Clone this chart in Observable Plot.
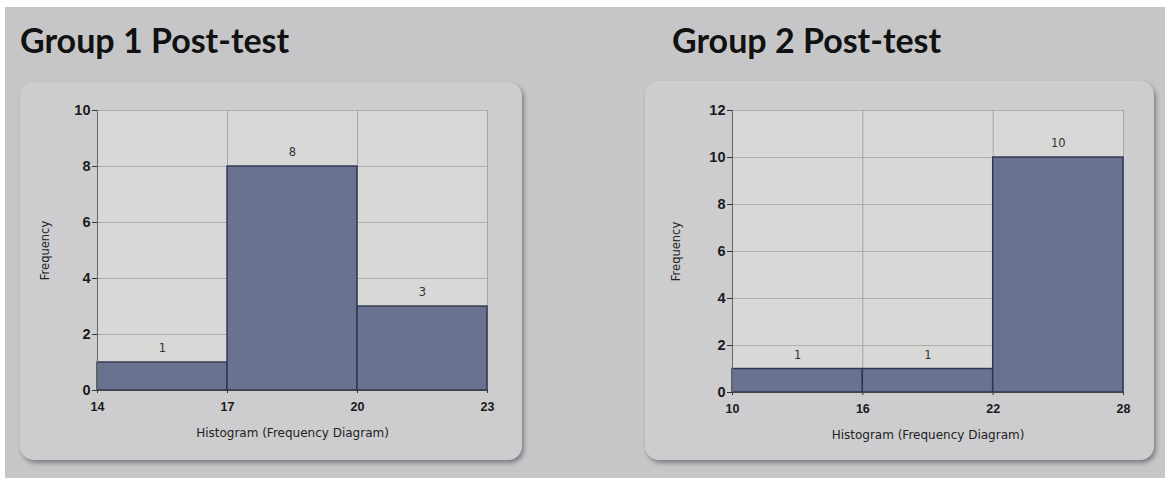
<!DOCTYPE html>
<html>
<head>
<meta charset="utf-8">
<script src="https://cdn.jsdelivr.net/npm/d3@7"></script>
<script src="https://cdn.jsdelivr.net/npm/@observablehq/plot@0.6"></script>
<style>
  html, body { margin: 0; padding: 0; width: 1165px; height: 478px; background: #ffffff; overflow: hidden; }
  #bg { position: absolute; left: 5px; top: 7px; right: 0; bottom: 0; background: #c6c6c8; }
  .title { position: absolute; font-family: Lato, "Open Sans", sans-serif; font-weight: 700; font-size: 34px; line-height: 1.2; color: #111; white-space: nowrap; }
  .box { position: absolute; border-radius: 14px; background: #cdcdd0; box-shadow: 2px 3px 4px rgba(40,40,50,0.45); }
  .chart { position: absolute; }
  .chart svg { background: transparent !important; overflow: visible; }
</style>
</head>
<body>
<div id="bg"></div>
<div class="title" style="left:20px; top:20px;">Group 1 Post-test</div>
<div class="title" style="left:672px; top:20px;">Group 2 Post-test</div>
<div class="box" style="left:20px; top:82px; width:502px; height:378px;"></div>
<div class="box" style="left:645px; top:81px; width:509px; height:379px;"></div>
<div class="chart" id="c1" style="left:20px; top:82px;"></div>
<div class="chart" id="c2" style="left:645px; top:81px;"></div>
<script>
// ---- data ----
const g1Edges = [14, 17, 20, 23];
const g1Counts = [1, 8, 3];
const g1YTicks = [0, 2, 4, 6, 8, 10];

const g2Edges = [10, 16, 22, 28];
const g2Counts = [1, 1, 10];
const g2YTicks = [0, 2, 4, 6, 8, 10, 12];

const xLabel = "Histogram (Frequency Diagram)";
const yLabel = "Frequency";

function histo({edges, counts, yTicks, width, height, mL, mR, mT, mB, yLabDx}) {
  const bins = counts.map((c, i) => ({x1: edges[i], x2: edges[i + 1], xm: (edges[i] + edges[i + 1]) / 2, count: c}));
  const yMax = yTicks[yTicks.length - 1];
  return Plot.plot({
    width, height,
    marginLeft: mL, marginRight: mR, marginTop: mT, marginBottom: mB,
    style: {background: "transparent", fontFamily: "'Liberation Sans', Arial, sans-serif", color: "#222"},
    x: {domain: [edges[0], edges[edges.length - 1]]},
    y: {domain: [0, yMax]},
    marks: [
      Plot.frame({fill: "#d8d8d6", stroke: null}),
      Plot.gridX(edges, {stroke: "#9a9a9e", strokeOpacity: 1, strokeWidth: 0.8}),
      Plot.gridY(yTicks, {stroke: "#a4a4a8", strokeOpacity: 1, strokeWidth: 0.8}),
      Plot.rectY(bins, {x1: "x1", x2: "x2", y: "count", fill: "#69728e", stroke: "#2c3550", strokeWidth: 1.4}),
      Plot.text(bins, {x: "xm", y: "count", text: d => String(d.count), dy: -14, fontSize: 11.5,
        fontFamily: "'DejaVu Sans', sans-serif", fill: "#333"}),
      Plot.ruleX([edges[0]], {stroke: "#666", strokeWidth: 1}),
      Plot.ruleY([0], {stroke: "#444", strokeWidth: 1.2}),
      Plot.axisY(yTicks, {tickSize: 5, tickPadding: 2, fontSize: 14.5, fontWeight: "bold", stroke: "#333", fill: "#1a1a1a",
        label: null}),
      Plot.axisX(edges, {tickSize: 3, tickPadding: 9, fontSize: 12.5, fontWeight: "bold", stroke: "#333", fill: "#1a1a1a",
        label: null}),
      Plot.text([xLabel], {frameAnchor: "bottom", dy: 46, fontSize: 12, fontFamily: "'DejaVu Sans', sans-serif",
        fill: "#222", text: d => d}),
      Plot.text([yLabel], {frameAnchor: "left", dx: yLabDx, rotate: -90, textAnchor: "middle", fontSize: 11.5,
        fontFamily: "'DejaVu Sans', sans-serif", fill: "#222", text: d => d})
    ]
  });
}

document.getElementById("c1").append(histo({edges: g1Edges, counts: g1Counts, yTicks: g1YTicks,
  width: 502, height: 378, mL: 77, mR: 35, mT: 28, mB: 70, yLabDx: -52}));
document.getElementById("c2").append(histo({edges: g2Edges, counts: g2Counts, yTicks: g2YTicks,
  width: 509, height: 379, mL: 87, mR: 31, mT: 29, mB: 68, yLabDx: -56}));
</script>
</body>
</html>
